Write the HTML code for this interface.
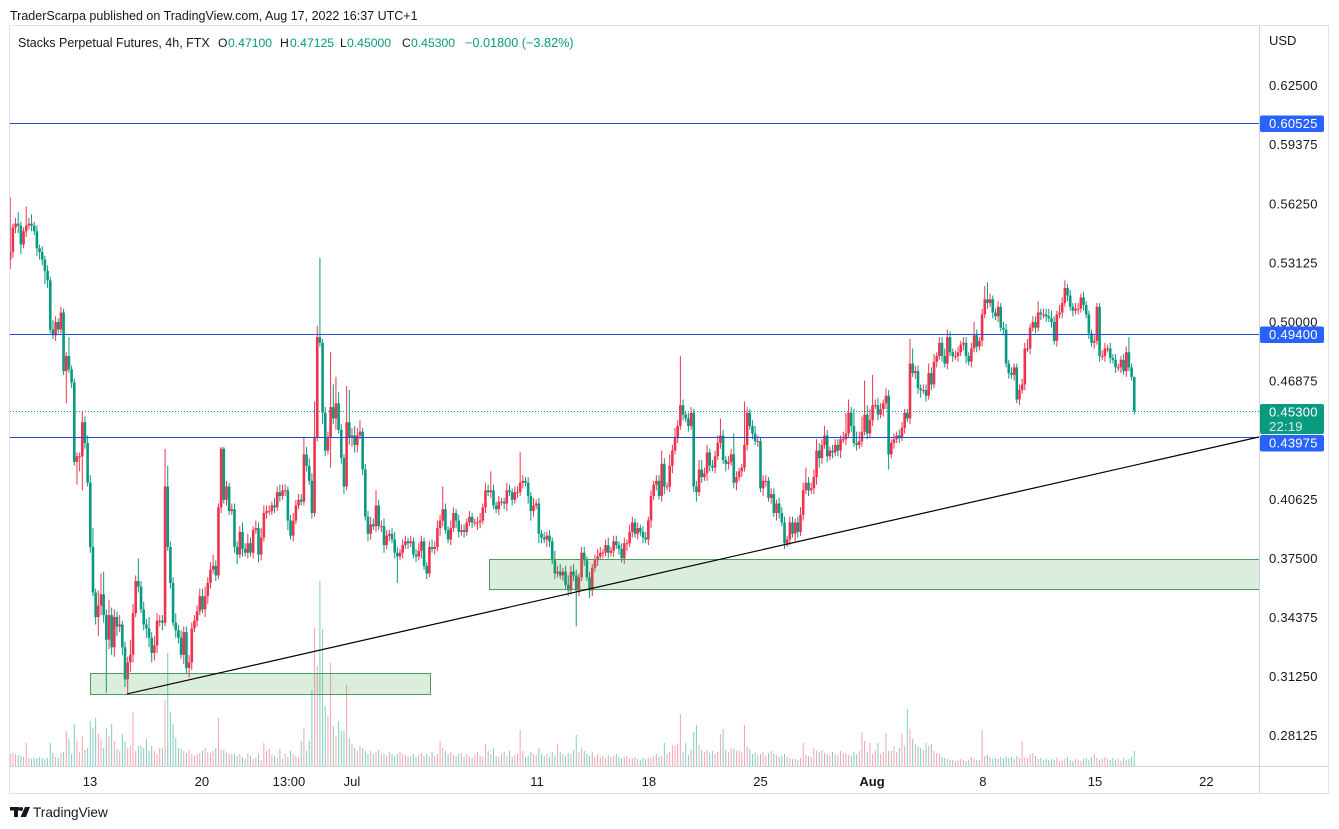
<!DOCTYPE html>
<html lang="en">
<head>
<meta charset="utf-8">
<title>Stacks Perpetual Futures chart</title>
<style>
html,body{margin:0;padding:0;background:#fff;width:1339px;height:829px;overflow:hidden}
svg{display:block}
text{font-family:"Liberation Sans",Arial,sans-serif;fill:#131722}
</style>
</head>
<body>
<svg id="chart" xmlns="http://www.w3.org/2000/svg" width="1339" height="829" viewBox="0 0 1339 829">
  <defs><clipPath id="plot-clip"><rect x="10" y="25" width="1249" height="741"/></clipPath></defs>
  <rect x="0" y="0" width="1339" height="829" fill="#ffffff"/>
  <text x="10" y="20" font-size="12.5">TraderScarpa published on TradingView.com, Aug 17, 2022 16:37 UTC+1</text>
  <g id="plot" clip-path="url(#plot-clip)">
    <g id="volumes"></g>
    <g id="candles"></g>
    <g id="zones"></g>
    <g id="levels"></g>
    <g id="trend"></g>
  </g>
  <g stroke="#e0e3eb" stroke-width="1" fill="none">
    <line x1="9.5" y1="25.5" x2="1328.5" y2="25.5"/>
    <line x1="9.5" y1="25.5" x2="9.5" y2="793.5"/>
    <line x1="1328.5" y1="25.5" x2="1328.5" y2="793.5"/>
    <line x1="9.5" y1="793.5" x2="1328.5" y2="793.5"/>
    <line x1="9.5" y1="766.5" x2="1328.5" y2="766.5" stroke="#d1d4dc"/>
    <line x1="1259.5" y1="25.5" x2="1259.5" y2="793.5" stroke="#d1d4dc"/>
  </g>
  <g font-size="12.2">
    <text x="18" y="47" font-size="12.5">Stacks Perpetual Futures, 4h, FTX</text>
    <text x="218" y="47">O</text>
    <text x="228" y="47" style="fill:#089981">0.47100</text>
    <text x="280" y="47">H</text>
    <text x="290" y="47" style="fill:#089981">0.47125</text>
    <text x="340" y="47">L</text>
    <text x="347" y="47" style="fill:#089981">0.45000</text>
    <text x="402" y="47">C</text>
    <text x="411" y="47" style="fill:#089981">0.45300</text>
    <text x="465" y="47" font-size="12.7" style="fill:#089981">−0.01800 (−3.82%)</text>
  </g>
  <text x="1269" y="45" font-size="13">USD</text>
  <g id="price-axis"></g>
  <g id="time-axis"></g>
  <g id="price-tags"></g>
  <g>
    <rect x="10" y="807" width="9" height="3.5" fill="#131722"/>
    <rect x="14" y="807" width="4" height="10" fill="#131722"/>
    <circle cx="21" cy="809" r="2" fill="#131722"/>
    <polygon points="25,807 30,807 26,817 20.5,817" fill="#131722"/>
    <text x="33" y="817" font-size="13.6">TradingView</text>
  </g>
</svg>
<script>
const firstOpen = 533;
const closes = [
537,550,552,551,541,548,551,552,551,548,
539,537,533,527,522,496,493,500,496,505,
474,482,475,468,426,429,429,447,436,415,
381,357,344,350,356,345,332,345,328,344,
339,340,328,311,320,324,346,363,360,348,
340,338,333,325,329,342,342,341,413,381,
362,341,337,333,324,336,317,320,338,342,
347,355,348,355,362,369,371,366,402,433,
406,413,400,401,381,377,389,380,378,383,
378,390,391,377,386,399,400,400,403,402,
410,408,411,411,395,387,395,403,406,405,
430,424,416,399,439,492,489,452,432,439,
455,449,457,443,428,413,447,439,440,435,
440,442,422,397,388,393,392,403,392,392,
382,387,388,385,378,376,378,382,384,383,
384,377,376,379,384,371,367,381,380,381,
391,395,401,390,385,391,399,395,389,390,
389,394,397,394,394,394,395,402,411,410,
411,403,401,405,405,404,411,410,406,410,
410,415,416,415,408,400,403,404,388,386,
385,387,384,374,367,368,366,368,361,358,
368,366,358,365,378,374,365,358,370,374,
376,378,378,382,378,379,384,382,380,375,
383,383,389,394,388,391,389,386,385,395,
408,414,416,408,425,413,413,424,432,439,
445,456,451,449,445,452,413,410,422,418,
420,431,424,423,429,436,440,427,425,426,
430,415,418,421,423,435,452,445,441,437,
437,412,416,416,407,409,399,404,399,394,
383,385,394,388,394,389,398,411,415,411,
412,418,432,428,435,440,429,432,431,435,
432,438,438,441,452,445,436,435,437,442,
451,441,448,456,456,451,454,457,461,430,
436,438,440,439,444,452,449,478,473,474,
465,464,464,461,473,467,479,482,489,482,
478,492,484,482,482,484,488,489,482,479,
486,493,487,490,504,512,510,512,505,503,
508,497,496,478,473,472,476,459,464,467,
486,486,497,500,497,505,504,504,503,502,
500,490,504,505,510,518,514,508,506,507,
507,513,509,504,494,489,490,508,482,482,
486,486,481,480,476,476,480,474,484,476,
471,453];
const upperWicks = [
29,2,3,6,2,2,10,3,5,2,
3,2,3,2,3,2,5,3,2,3,
2,2,10,2,2,2,2,6,3,4,
4,10,2,8,11,12,3,8,4,4,
3,5,2,3,3,8,5,3,12,3,
4,3,6,3,5,4,3,3,20,11,
3,3,5,3,4,3,3,4,3,3,
3,4,4,5,3,4,6,3,2,1,
1,3,2,3,3,3,3,5,3,5,
3,2,4,3,5,4,3,3,2,4,
3,4,3,3,2,3,4,3,3,3,
9,4,4,4,19,6,42,2,3,3,
29,12,14,6,3,2,19,17,4,5,
4,6,2,3,3,4,3,8,3,3,
4,3,2,3,4,3,2,3,3,2,
3,2,3,4,3,2,2,3,4,3,
4,3,12,3,2,4,3,2,3,3,
3,2,3,2,2,3,4,2,4,3,
10,3,2,3,2,2,4,3,2,3,
3,16,3,2,3,2,4,2,3,2,
3,2,3,2,5,3,4,2,3,5,
3,4,3,2,3,3,2,3,2,3,
4,3,2,3,4,2,3,3,2,3,
3,2,4,3,2,3,2,3,3,2,
3,2,3,3,7,3,2,6,3,5,
3,26,3,2,3,3,2,3,5,5,
3,4,2,3,3,4,9,3,2,3,
3,11,3,2,2,23,3,2,3,4,
3,2,3,3,2,3,3,2,3,3,
3,2,3,3,2,3,4,4,8,3,
3,4,6,4,3,5,3,2,3,3,
3,2,4,11,7,3,9,6,5,8,
18,5,6,16,3,4,3,2,4,3,
2,3,2,3,3,2,2,13,8,3,
3,2,3,3,5,3,4,2,3,3,
4,4,3,2,3,3,2,3,3,2,
3,7,3,2,3,7,9,3,2,2,
3,2,3,3,2,3,2,2,3,3,
3,5,2,3,3,6,2,3,3,4,
4,3,2,4,3,4,2,3,2,3,
3,2,3,2,2,2,3,2,2,3,
3,2,3,2,3,2,2,3,3,8,
2,0];
const lowerWicks = [
5,3,3,4,5,2,3,2,3,2,
4,4,3,7,4,2,2,3,2,2,
2,17,2,3,2,12,8,18,3,2,
3,2,4,10,5,4,28,5,4,5,
5,3,4,4,7,5,4,2,3,2,
3,5,5,5,4,4,3,4,2,2,
3,2,4,3,2,5,3,5,4,2,
3,2,2,4,4,3,2,3,2,3,
2,3,2,2,3,5,2,4,2,3,
2,3,2,4,3,2,3,2,2,3,
2,3,2,3,5,2,3,2,2,2,
2,3,2,3,2,2,2,6,3,2,
16,3,6,2,3,4,2,4,5,4,
4,2,3,2,4,3,2,3,2,3,
4,2,3,2,3,14,2,3,2,3,
2,2,3,2,4,2,3,2,2,3,
2,4,3,2,2,3,2,4,3,2,
3,2,2,3,2,4,3,2,3,2,
3,2,2,3,2,3,4,2,3,2,
3,2,3,2,4,5,3,2,5,3,
2,4,3,2,3,2,2,3,2,3,
2,3,19,3,2,3,2,4,3,2,
3,2,3,2,3,2,3,2,3,2,
3,4,2,3,2,3,2,3,2,3,
4,2,3,2,3,4,2,3,4,2,
3,2,3,2,3,2,3,5,2,3,
2,4,3,2,3,2,3,2,4,3,
2,3,4,2,3,2,3,2,3,2,
3,2,4,3,2,3,2,4,3,2,
3,2,3,2,4,3,2,3,2,3,
2,3,4,5,3,2,3,2,3,2,
3,4,2,3,2,3,2,3,2,3,
2,3,2,3,2,3,2,4,3,8,
2,3,2,3,2,3,2,3,2,3,
3,4,2,3,2,3,2,3,2,3,
2,3,2,3,2,3,2,3,4,2,
3,2,3,2,3,2,3,2,3,2,
3,2,3,2,3,2,3,2,3,2,
3,2,3,2,3,2,3,2,3,2,
3,2,3,2,3,2,3,2,3,2,
3,2,3,2,3,2,3,2,3,2,
3,2,3,2,3,2,3,2,3,2,
2,2];
const volumes = [
12,13,12,11,10,9,23,8,7,8,
8,9,8,7,8,23,13,9,8,13,
14,35,27,12,42,25,14,30,16,18,
45,38,48,32,27,18,38,30,42,25,
17,15,32,25,18,20,54,15,20,20,
18,27,15,20,15,12,18,18,66,113,
54,42,28,18,17,15,13,16,12,10,
12,13,15,18,14,13,15,18,48,17,
16,13,12,12,12,10,12,9,7,13,
10,7,8,12,6,23,15,17,11,10,
8,17,7,12,9,15,12,10,9,25,
38,15,25,76,138,100,185,137,60,50,
103,40,30,45,35,35,81,28,22,18,
15,20,18,15,12,15,12,14,16,12,
12,10,14,12,10,12,14,12,11,9,
10,12,9,11,13,10,12,9,14,10,
12,25,18,15,12,14,11,10,12,13,
9,12,10,8,11,14,10,9,22,15,
12,18,10,9,12,14,10,15,9,11,
12,36,15,9,10,14,12,11,18,12,
10,12,9,14,11,22,14,12,10,13,
12,16,31,14,18,15,12,10,14,9,
12,9,10,8,11,9,10,12,9,8,
9,10,7,8,9,7,6,8,7,8,
9,10,12,9,10,23,12,14,21,20,
22,52,14,23,11,17,34,41,21,16,
14,16,13,15,12,14,32,37,16,14,
18,17,15,16,14,41,20,17,12,13,
11,12,14,10,13,15,12,11,9,10,
12,9,8,7,7,6,8,23,11,10,
9,18,15,14,16,13,12,10,14,12,
11,15,13,12,11,10,14,12,15,34,
25,14,23,12,16,23,12,14,33,15,
15,20,14,18,32,20,57,37,27,22,
20,18,16,23,20,22,15,13,12,9,
8,7,6,6,5,6,7,6,5,6,
9,7,6,6,36,10,11,9,7,8,
7,9,8,10,8,9,7,10,8,25,
9,8,12,13,10,7,8,6,7,6,
7,6,8,5,6,7,9,6,5,7,
6,5,7,8,6,9,12,8,6,7,
9,7,6,8,6,7,5,8,6,7,
9,15];
const priceTicks = [0.625,0.59375,0.5625,0.53125,0.5,0.46875,0.40625,0.375,0.34375,0.3125,0.28125];
const dateLabels = ['13','20','13:00','Jul','11','18','25','Aug','8','15','22'];
const dateBarIndex = [29.9,71.8,104.4,128,197.3,239.2,281,322.8,364.3,406.3,448];
const levelPrices = [0.60525,0.494,0.43975];
const lastPrice = 0.453;
const countdown = '22:19';
const zoneBars = [[29.9,157.3,0.3144,0.3033],[179.3,470,0.37475,0.359]];
const trendBars = [43.7,467.7];
const trendPrices = [0.3033,0.4392];

const NS = 'http://www.w3.org/2000/svg';
const GREEN = '#089981', RED = '#f0334d', BLUE = '#1c4fd6';
function xScale(i){ return 10.2 + i * 2.67; }
function yScale(price){ return 322 + (0.5 - price) * 1891; }
function levelY(price){ return 123.5 + (0.60525 - price) * 1897; }
function volumeHeight(v){ return v * 1; }
function make(parent, tag, attrs){
  const el = document.createElementNS(NS, tag);
  for (const k in attrs) el.setAttribute(k, attrs[k]);
  parent.appendChild(el);
  return el;
}
const gVol = document.getElementById('volumes');
const gCandle = document.getElementById('candles');
closes.forEach(function(m, i){
  const open = i === 0 ? firstOpen : closes[i - 1];
  const up = m >= open;
  const x = xScale(i);
  const top = Math.max(open, m), bottom = Math.min(open, m);
  const high = top + (upperWicks[i] || 0), low = bottom - (lowerWicks[i] || 0);
  const col = up ? RED : GREEN;
  const vh = volumeHeight(volumes[i] || 0);
  const bar = make(gVol, 'rect', {x: x - 0.5, y: 766 - vh, width: 1, height: vh, fill: up ? 'rgba(235,90,110,.55)' : 'rgba(8,153,129,.5)'});
  
  
  const wick = make(gCandle, 'line', {x1: x, x2: x, y1: yScale(high / 1000), y2: yScale(low / 1000), stroke: col, 'stroke-width': 1});
  
  
  const yt = yScale(top / 1000), yb = yScale(bottom / 1000);
  const body = make(gCandle, 'rect', {x: x - 1.3, y: yt, width: 2.6, height: Math.max(yb - yt, 1), fill: col});
  
  
});
const gZones = document.getElementById('zones');
zoneBars.forEach(function(z){
  const x1 = Math.round(xScale(z[0])) + 0.5, x2 = Math.min(Math.round(xScale(z[1])) + 0.5, 1262);
  const y1 = Math.round(yScale(z[2])) + 0.5, y2 = Math.round(yScale(z[3])) + 0.5;
  const r = make(gZones, 'rect', {x: x1, y: y1, width: x2 - x1, height: y2 - y1, fill: 'rgba(76,165,80,.2)', stroke: '#4f9a5a', 'stroke-width': 1});
  
  
});
const gLevels = document.getElementById('levels');
levelPrices.forEach(function(p){
  const y = Math.floor(levelY(p)) + 0.5;
  const l = make(gLevels, 'line', {x1: 10, x2: 1259, y1: y, y2: y, stroke: BLUE, 'stroke-width': 1});
  
  
});
const lastY = Math.round(yScale(lastPrice)) + 0.5;
const lastLine = make(gLevels, 'line', {x1: 10, x2: 1259, y1: lastY, y2: lastY, stroke: GREEN, 'stroke-width': 1, 'stroke-dasharray': '1 2'});


const trend = make(document.getElementById('trend'), 'line', {x1: xScale(trendBars[0]), y1: yScale(trendPrices[0]), x2: xScale(trendBars[1]), y2: yScale(trendPrices[1]), stroke: '#000', 'stroke-width': 1.2});



const gPrice = document.getElementById('price-axis');
priceTicks.forEach(function(p){
  const t = make(gPrice, 'text', {x: 1269, y: yScale(p) + 4.5, 'font-size': 13, 'letter-spacing': 0.25});
  
  
  t.textContent = p.toFixed(5);
});
const gTime = document.getElementById('time-axis');
dateLabels.forEach(function(label, i){
  const t = make(gTime, 'text', {x: xScale(dateBarIndex[i]), y: 786, 'font-size': 13, 'text-anchor': 'middle', 'font-weight': label === 'Aug' ? 'bold' : 'normal'});
  
  
  t.textContent = label;
});
const gTags = document.getElementById('price-tags');
const tagOffsets = [0, 0, 5.5];
levelPrices.forEach(function(p, i){
  const cy = levelY(p) + tagOffsets[i];
  const r = make(gTags, 'rect', {x: 1260, y: cy - 8, width: 64, height: 16.5, rx: 2, fill: '#2962ff'});
  
  
  const t = make(gTags, 'text', {x: 1269, y: cy + 4.5, 'font-size': 13, 'letter-spacing': 0.25, style: 'fill:#ffffff'});
  
  
  t.textContent = p.toFixed(5);
});
const lastTag = make(gTags, 'rect', {x: 1260, y: 404, width: 64, height: 30, rx: 2, fill: '#0a9a80'});


const lastText = make(gTags, 'text', {x: 1269, y: 416.5, 'font-size': 13, 'letter-spacing': 0.25, style: 'fill:#ffffff'});


lastText.textContent = lastPrice.toFixed(5);
const cdText = make(gTags, 'text', {x: 1269, y: 431, 'font-size': 13, 'letter-spacing': 0.25, style: 'fill:#d5f0ea'});


cdText.textContent = countdown;
</script>
</body>
</html>
